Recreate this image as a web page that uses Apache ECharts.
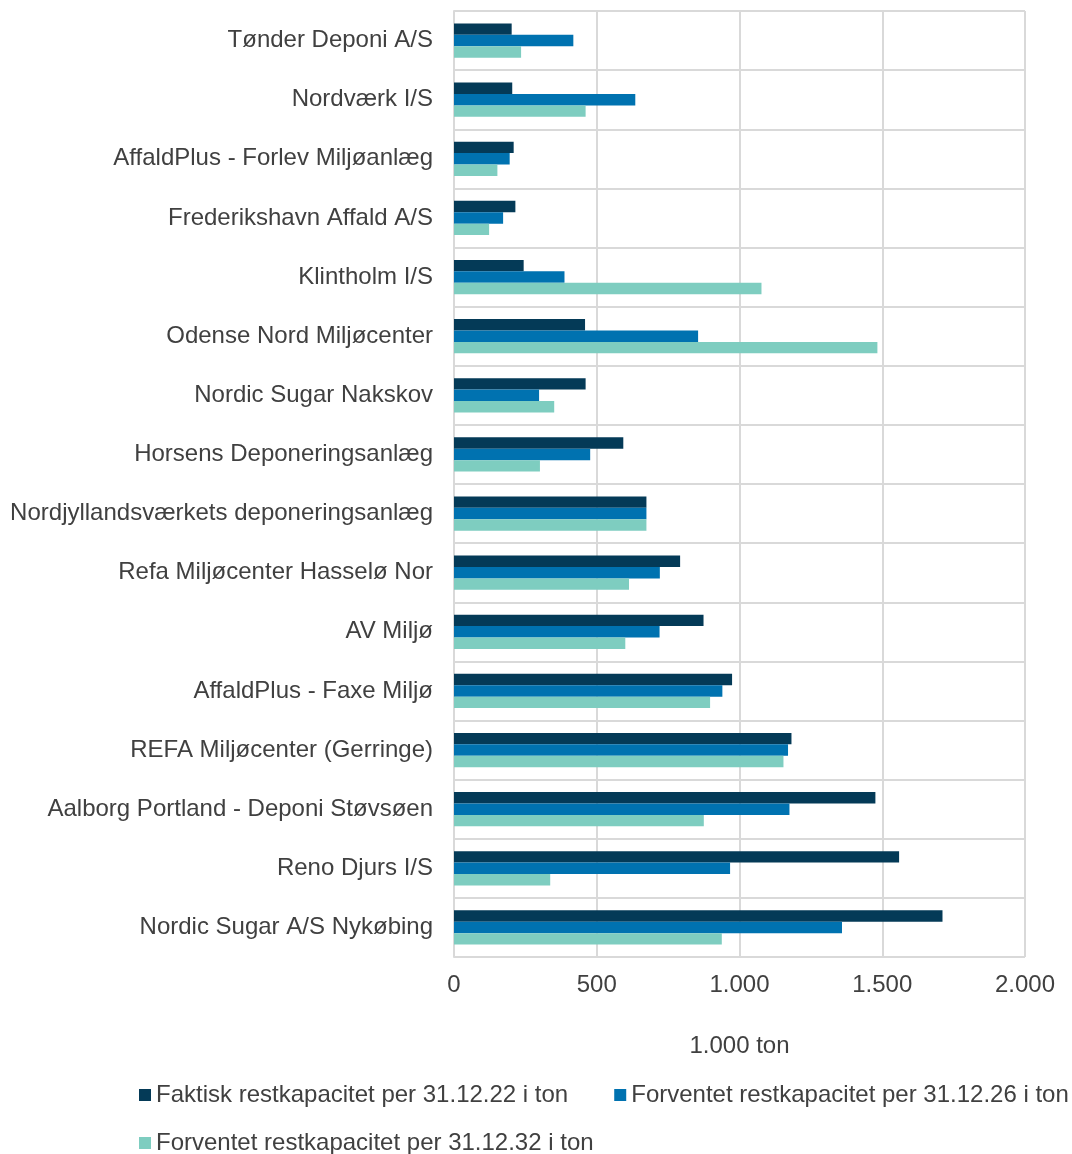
<!DOCTYPE html>
<html>
<head>
<meta charset="utf-8">
<script src="https://cdn.jsdelivr.net/npm/echarts@6/dist/echarts.min.js"></script>
<style>html,body{margin:0;padding:0;background:#fff}#c{width:1072px;height:1154px}</style>
</head>
<body>
<div id="c"></div>
<script>
const categories = [
  "Tønder Deponi A/S",
  "Nordværk I/S",
  "AffaldPlus - Forlev Miljøanlæg",
  "Frederikshavn Affald A/S",
  "Klintholm I/S",
  "Odense Nord Miljøcenter",
  "Nordic Sugar Nakskov",
  "Horsens Deponeringsanlæg",
  "Nordjyllandsværkets deponeringsanlæg",
  "Refa Miljøcenter Hasselø Nor",
  "AV Miljø",
  "AffaldPlus - Faxe Miljø",
  "REFA Miljøcenter (Gerringe)",
  "Aalborg Portland - Deponi Støvsøen",
  "Reno Djurs I/S",
  "Nordic Sugar A/S Nykøbing"
];
const seriesNames = [
  "Faktisk restkapacitet per 31.12.22 i ton",
  "Forventet restkapacitet per 31.12.26 i ton",
  "Forventet restkapacitet per 31.12.32 i ton"
];
const faktisk22 = [202, 204, 209, 215, 244, 459, 461, 593, 674, 792, 874, 974, 1182, 1476, 1559, 1711];
const forventet26 = [418, 635, 195, 172, 387, 855, 298, 477, 674, 721, 720, 940, 1170, 1175, 967, 1359];
const forventet32 = [235, 461, 152, 123, 1077, 1483, 351, 301, 674, 613, 600, 897, 1154, 875, 337, 938];
const xTickLabels = ["0", "500", "1.000", "1.500", "2.000"];
const axisName = "1.000 ton";

const colors = ["#043a57", "#0072b0", "#7ecdc0"];
const font = "'Liberation Sans', Arial, sans-serif";
const txt = "#404040";
const gridColor = "#d9d9d9";
const fs = 24;

const chart = echarts.init(document.getElementById('c'), null, {renderer: 'canvas'});
const values = [faktisk22, forventet26, forventet32];
chart.setOption({
  animation: false,
  textStyle: {fontFamily: font},
  grid: {left: 454, right: 47, top: 11, bottom: 197, containLabel: false},
  legend: [
    {data: [seriesNames[0], seriesNames[1]], left: 134, top: 1078, width: 1000, itemWidth: 12, itemHeight: 12, itemGap: 46,
     icon: 'rect', textStyle: {fontSize: fs, color: txt, fontFamily: font}},
    {data: [seriesNames[2]], left: 134, top: 1126, width: 1000, itemWidth: 12, itemHeight: 12, itemGap: 46,
     icon: 'rect', textStyle: {fontSize: fs, color: txt, fontFamily: font}}
  ],
  xAxis: {
    type: 'value', min: 0, max: 2000, interval: 500,
    name: axisName, nameLocation: 'middle', nameGap: 77,
    nameTextStyle: {fontSize: fs, color: txt, fontFamily: font},
    axisLine: {show: false}, axisTick: {show: false},
    axisLabel: {fontSize: fs, color: txt, margin: 16, fontFamily: font,
      formatter: v => xTickLabels[Math.round(v / 500)]},
    splitLine: {show: true, lineStyle: {color: gridColor, width: 2}}
  },
  yAxis: {
    type: 'category', data: categories, inverse: true,
    axisLine: {show: true, lineStyle: {color: gridColor, width: 2}},
    axisTick: {show: false},
    axisLabel: {fontSize: fs, color: txt, margin: 21, fontFamily: font},
    splitLine: {show: true, lineStyle: {color: gridColor, width: 2}}
  },
  series: seriesNames.map((n, i) => ({
    name: n, type: 'bar', data: values[i],
    barGap: '0%', barCategoryGap: '42%',
    itemStyle: {color: colors[i]}
  }))
});
</script>
</body>
</html>
